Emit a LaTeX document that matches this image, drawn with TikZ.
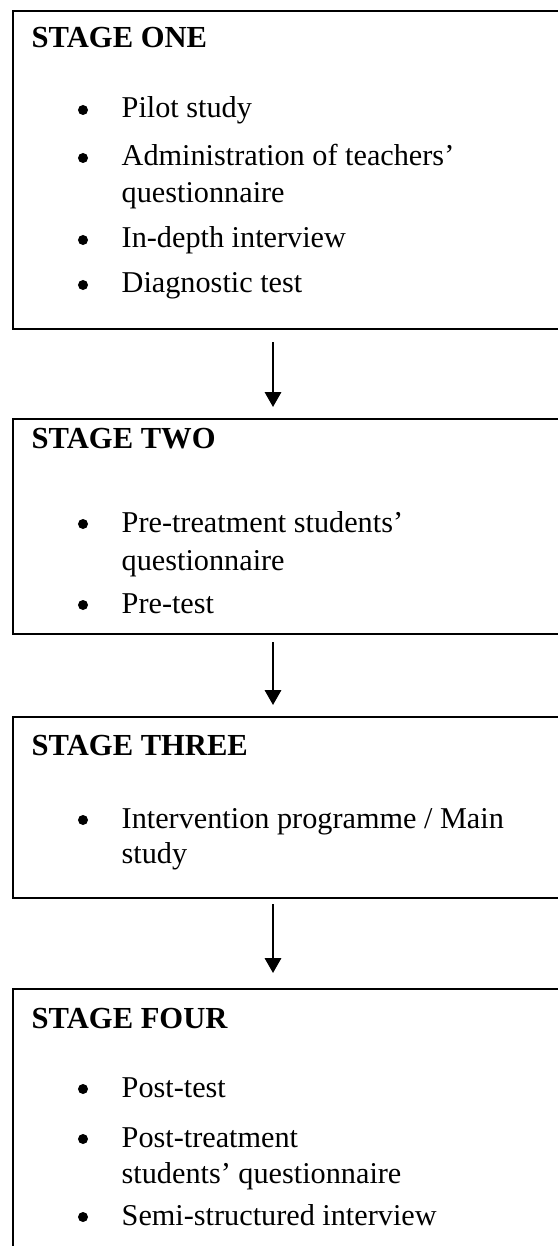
\documentclass[tikz,border=0pt]{standalone}
\usepackage{fontspec}
\setmainfont{Liberation Serif}
\usetikzlibrary{arrows.meta}

\tikzset{
  stagebox/.style={draw, line width=0.6pt, anchor=north west, inner sep=0pt,
    minimum width=5.58cm},
  heading/.style={anchor=base west, inner sep=0pt,
    font={\fontsize{8.7pt}{10.5pt}\selectfont\bfseries}},
  entry/.style={anchor=base west, inner sep=0pt,
    font={\fontsize{8.6pt}{10.5pt}\selectfont}},
  dot/.style={circle, fill, inner sep=0pt, minimum size=0.1cm},
  flow/.style={-{Triangle[length=4.2pt,width=4.6pt]}, line width=0.6pt}
}

\begin{document}
\begin{tikzpicture}[x=0.01cm, y=-0.01cm]
    \path[use as bounding box, clip] (0, 0) rectangle (558, 1246);
    \coordinate (ax) at (273, 0);

    % stage one
    \node[stagebox, minimum height=3.18cm] (stage1) at (12, 10) {};
    \node[heading] (t1) at (31, 48) {STAGE ONE};
    \node[dot] (d11) at (83, 110) {};
    \node[entry] (e11) at (121, 118) {Pilot study};
    \node[dot] (d12) at (83, 158) {};
    \node[entry] (e12) at (121, 166) {Administration of teachers’};
    \node[entry] (e12b) at (121, 203) {questionnaire};
    \node[dot] (d13) at (83, 240) {};
    \node[entry] (e13) at (121, 248) {In-depth interview};
    \node[dot] (d14) at (83, 285) {};
    \node[entry] (e14) at (121, 293) {Diagnostic test};

    % stage two
    \node[stagebox, minimum height=2.15cm] (stage2) at (12, 418) {};
    \node[heading] (t2) at (31, 448) {STAGE TWO};
    \node[dot] (d21) at (83, 524) {};
    \node[entry] (e21) at (121, 532) {Pre-treatment students’};
    \node[entry] (e21b) at (121, 570) {questionnaire};
    \node[dot] (d22) at (83, 605) {};
    \node[entry] (e22) at (121, 613) {Pre-test};

    % stage three
    \node[stagebox, minimum height=1.81cm] (stage3) at (12, 716) {};
    \node[heading] (t3) at (31, 755) {STAGE THREE};
    \node[dot] (d31) at (83, 820) {};
    \node[entry] (e31) at (121, 828) {Intervention programme / Main};
    \node[entry] (e31b) at (121, 863) {study};

    % stage four
    \node[stagebox, minimum height=2.72cm] (stage4) at (12, 988) {};
    \node[heading] (t4) at (31, 1028) {STAGE FOUR};
    \node[dot] (d41) at (83, 1089) {};
    \node[entry] (e41) at (121, 1097) {Post-test};
    \node[dot] (d42) at (83, 1139) {};
    \node[entry] (e42) at (121, 1147) {Post-treatment};
    \node[entry] (e42b) at (121, 1183) {students’ questionnaire};
    \node[dot] (d43) at (83, 1217) {};
    \node[entry] (e43) at (121, 1225) {Semi-structured interview};

    \draw[flow, shorten <=0.12cm, shorten >=0.11cm] (stage1.south -| ax) -- (stage2.north -| ax);
    \draw[flow, shorten <=0.07cm, shorten >=0.11cm] (stage2.south -| ax) -- (stage3.north -| ax);
    \draw[flow, shorten <=0.05cm, shorten >=0.15cm] (stage3.south -| ax) -- (stage4.north -| ax);
\end{tikzpicture}
\end{document}
